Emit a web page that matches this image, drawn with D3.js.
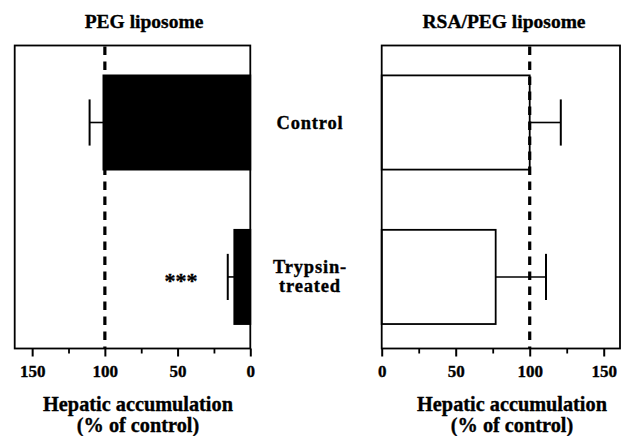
<!DOCTYPE html>
<html><head><meta charset="utf-8">
<script src="https://cdn.jsdelivr.net/npm/d3@7"></script>
<style>
body{margin:0;background:#fff;}
text{font-family:"Liberation Serif","Times New Roman",serif;font-weight:bold;fill:#000;stroke:#000;stroke-width:0.35px;}
</style></head>
<body><svg id="c" width="628" height="436"></svg>
<script>
const categories = ["Control", "Trypsin-treated"];
const categoryLines = [["Control"], ["Trypsin-", "treated"]];
const pegValues = [101, 11];
const pegErrorTop = [110.5, 15.5];
const rsaValues = [100, 77];
const rsaErrorTop = [121, 111];
const majorTicks = [0, 50, 100, 150];
const minorTicks = [25, 75, 125];
const referenceLine = 100;
const panelTitles = ["PEG liposome", "RSA/PEG liposome"];
const axisTitle = ["Hepatic accumulation", "(% of control)"];
const significance = ["", "***"];

const svg = d3.select("#c");
const plotTop = 45.5, plotBottom = 348.5;
const y = d3.scaleBand().domain(categories).range([plotTop, plotBottom])
  .paddingInner(0.39).paddingOuter(0.176).align(0.55);

function panel(opts){
  const x = d3.scaleLinear().domain([0, opts.max]).range(opts.range);
  const g = svg.append("g");
  const x0 = Math.min(...opts.range), x1 = Math.max(...opts.range);
  g.selectAll("rect.bar").data(categories).join("rect")
    .attr("x", (d,i)=>Math.min(x(0), x(opts.values[i])))
    .attr("width", (d,i)=>Math.abs(x(opts.values[i]) - x(0)))
    .attr("y", d=>y(d)).attr("height", y.bandwidth())
    .attr("fill", opts.fill).attr("stroke", "#000").attr("stroke-width", 1.8);
  const capH = y.bandwidth()*0.49;
  categories.forEach((c,i)=>{
    const cy = y(c) + y.bandwidth()/2;
    g.append("line").attr("x1", x(opts.values[i])).attr("x2", x(opts.err[i]))
      .attr("y1", cy).attr("y2", cy).attr("stroke","#000").attr("stroke-width",1.6);
    g.append("line").attr("x1", x(opts.err[i])).attr("x2", x(opts.err[i]))
      .attr("y1", cy-capH/2).attr("y2", cy+capH/2).attr("stroke","#000").attr("stroke-width",2);
  });
  g.append("line").attr("x1", x(referenceLine)).attr("x2", x(referenceLine))
    .attr("y1", plotTop+1).attr("y2", plotBottom).attr("stroke","#000")
    .attr("stroke-width",3.2).attr("stroke-dasharray","8.5,6.5");
  g.append("rect").attr("x", x0).attr("y", plotTop).attr("width", x1-x0).attr("height", plotBottom-plotTop)
    .attr("fill","none").attr("stroke","#000").attr("stroke-width",1.8);
  const ax = g.append("g").attr("transform",`translate(0,${plotBottom})`)
    .call(d3.axisBottom(x).tickValues(majorTicks).tickSize(8).tickPadding(8).tickFormat(d3.format("d")));
  ax.select(".domain").remove();
  ax.selectAll(".tick line").attr("stroke-width",2);
  ax.selectAll("text").attr("font-size", 17).attr("font-family", null);
  const axm = g.append("g").attr("transform",`translate(0,${plotBottom})`)
    .call(d3.axisBottom(x).tickValues(minorTicks).tickSize(5).tickFormat(""));
  axm.select(".domain").remove();
  axm.selectAll(".tick line").attr("stroke-width",1.8);
  g.append("text").attr("x", opts.titleX).attr("y", 27.5).attr("text-anchor","middle")
    .attr("font-size", 19.5).text(opts.title);
  g.append("text").attr("x", opts.labelX).attr("y", 411).attr("text-anchor","middle")
    .attr("font-size", 20.3).text(axisTitle[0]);
  g.append("text").attr("x", opts.labelX).attr("y", 432).attr("text-anchor","middle")
    .attr("font-size", 20.3).text(axisTitle[1]);
  return x;
}

panel({values: pegValues, err: pegErrorTop, max: 162, range: [250.3, 14.7],
  fill: "#000", title: panelTitles[0], titleX: 144, labelX: 138});
panel({values: rsaValues, err: rsaErrorTop, max: 161, range: [381.7, 620],
  fill: "#fff", title: panelTitles[1], titleX: 504, labelX: 512});

categories.forEach((c,i)=>{
  if(!significance[i]) return;
  svg.append("text").attr("x", 181).attr("y", y(c)+y.bandwidth()/2 + 11)
    .attr("text-anchor","middle").attr("font-size", 22)
    .text(significance[i]);
});

categories.forEach((c,i)=>{
  const lines = categoryLines[i];
  const cy = y(c) + y.bandwidth()/2;
  const t = svg.append("text").attr("x", 310).attr("text-anchor","middle")
    .attr("font-size", 18.5).attr("letter-spacing", 0.8);
  const start = cy + 6 - (lines.length-1)*9.5;
  lines.forEach((l,k)=>{
    t.append("tspan").attr("x", 310).attr("y", start + k*19).text(l);
  });
});
</script></body></html>
